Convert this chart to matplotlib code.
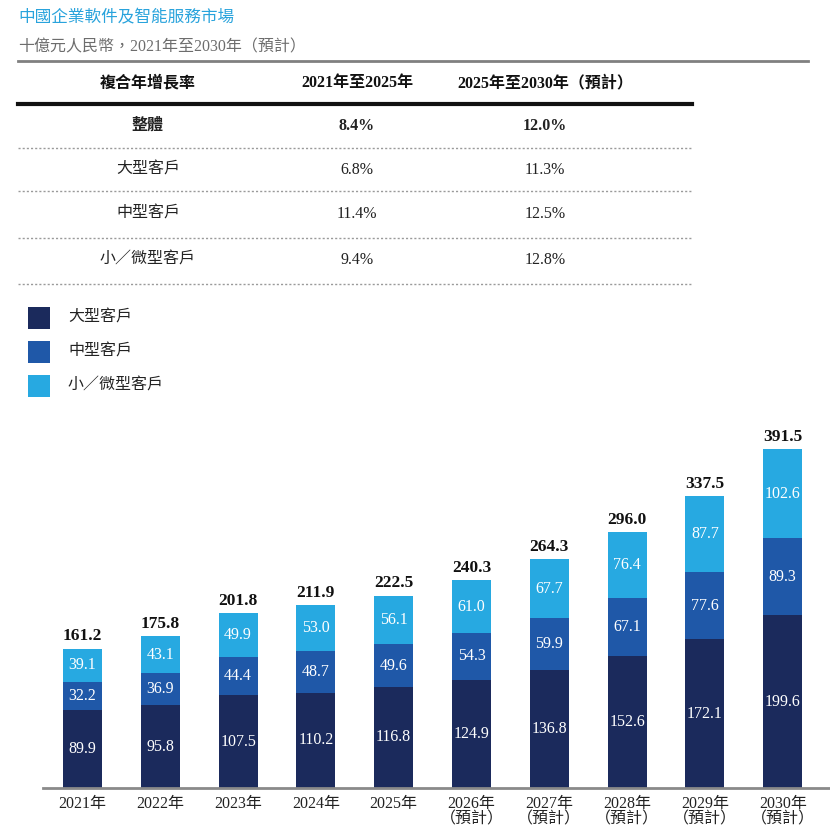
import matplotlib
matplotlib.use("Agg")
import matplotlib.pyplot as plt
from matplotlib.lines import Line2D
from matplotlib.patches import Rectangle
import numpy as np

plt.rcParams['font.family'] = ['Liberation Serif', 'Noto Sans CJK TC', 'DejaVu Sans']

# ---------------- data ----------------
years = ["2021年", "2022年", "2023年", "2024年", "2025年",
         "2026年\n（預計）", "2027年\n（預計）", "2028年\n（預計）", "2029年\n（預計）", "2030年\n（預計）"]
large = [89.9, 95.8, 107.5, 110.2, 116.8, 124.9, 136.8, 152.6, 172.1, 199.6]
medium = [32.2, 36.9, 44.4, 48.7, 49.6, 54.3, 59.9, 67.1, 77.6, 89.3]
small = [39.1, 43.1, 49.9, 53.0, 56.1, 61.0, 67.7, 76.4, 87.7, 102.6]
totals = [161.2, 175.8, 201.8, 211.9, 222.5, 240.3, 264.3, 296.0, 337.5, 391.5]

series_names = ["大型客戶", "中型客戶", "小／微型客戶"]
colors = ["#1b2a5c", "#1f58a8", "#27a9e1"]

title = "中國企業軟件及智能服務市場"
subtitle = "十億元人民幣，2021年至2030年（預計）"

table_header = ["複合年增長率", "2021年至2025年", "2025年至2030年（預計）"]
table_rows = ["整體", "大型客戶", "中型客戶", "小／微型客戶"]
cagr_2021_2025 = ["8.4%", "6.8%", "11.4%", "9.4%"]
cagr_2025_2030 = ["12.0%", "11.3%", "12.5%", "12.8%"]

# ---------------- figure ----------------
W = H = 830
fig = plt.figure(figsize=(8.3, 8.3), dpi=100)
fig.patch.set_facecolor("white")

def fx(px):
    return px / W

def fy(py):
    return 1 - py / H

# title & subtitle
fig.text(fx(18), fy(18), title, color="#29a3dc", fontsize=12,
         family=['Noto Sans CJK TC'], ha="left", va="center")
fig.text(fx(18), fy(47), subtitle, color="#6d6d6d", fontsize=11.5,
         ha="left", va="center")
fig.add_artist(Line2D([fx(18), fx(808)], [fy(61), fy(61)], color="#808080",
                      lw=2, transform=fig.transFigure))

# table
col_x = [148, 357, 545]
hdr_y = 83
for x, t in zip(col_x, table_header):
    fig.text(fx(x), fy(hdr_y), t, fontsize=11.5, fontweight="bold",
             ha="center", va="center", color="#111111")
fig.add_artist(Line2D([fx(18), fx(692)], [fy(104), fy(104)], color="#111111",
                      lw=3, transform=fig.transFigure))
row_y = [126, 170, 214, 260]
dash_y = [148, 191, 238, 284]
for i, (ry, dy) in enumerate(zip(row_y, dash_y)):
    fw = "bold" if i == 0 else "normal"
    fig.text(fx(col_x[0]), fy(ry), table_rows[i], fontsize=11.5, fontweight=fw,
             ha="center", va="center", color="#222222")
    fig.text(fx(col_x[1]), fy(ry), cagr_2021_2025[i], fontsize=11.5, fontweight=fw,
             ha="center", va="center", color="#222222")
    fig.text(fx(col_x[2]), fy(ry), cagr_2025_2030[i], fontsize=11.5, fontweight=fw,
             ha="center", va="center", color="#222222")
    fig.add_artist(Line2D([fx(18), fx(692)], [fy(dy), fy(dy)], color="#9a9a9a",
                          lw=1, linestyle=(0, (1.5, 1.5)), transform=fig.transFigure))

# legend
leg_y = [318, 352, 386]
for name, c, ly in zip(series_names, colors, leg_y):
    fig.add_artist(Rectangle((fx(28), fy(ly + 11)), fx(22), 22 / H, facecolor=c,
                             edgecolor="none", transform=fig.transFigure))
    fig.text(fx(68), fy(ly), name, fontsize=11.5, ha="left", va="center",
             color="#222222")

# bar chart
ax_left, ax_right, ax_top, ax_bottom = 43, 830, 420, 788
ax = fig.add_axes([fx(ax_left), fy(ax_bottom), fx(ax_right - ax_left),
                   (ax_bottom - ax_top) / H])
x = np.arange(len(years))
spacing = 77.8
ax.set_xlim((ax_left - 82.5) / spacing, (ax_right - 82.5) / spacing)
ax.set_ylim(0, (ax_bottom - ax_top) / 0.865)

bw = 0.5
bottoms = np.zeros(len(years))
for vals, c in zip([large, medium, small], colors):
    vals = np.array(vals)
    ax.bar(x, vals, bw, bottom=bottoms, color=c, edgecolor="none", zorder=2)
    for xi, b, v in zip(x, bottoms, vals):
        ax.text(xi, b + v / 2, f"{v:.1f}", ha="center", va="center",
                color="white", fontsize=11.5, zorder=3)
    bottoms = bottoms + vals

for xi, b, t in zip(x, bottoms, totals):
    ax.annotate(f"{t:.1f}", (xi, b), xytext=(0, 3), textcoords="offset points",
                ha="center", va="bottom", fontsize=12.5, fontweight="bold",
                color="#111111")

for s in ["top", "right", "left"]:
    ax.spines[s].set_visible(False)
ax.spines["bottom"].set_color("#8a8a8a")
ax.spines["bottom"].set_linewidth(2)
ax.set_yticks([])
ax.set_xticks(x)
ax.set_xticklabels(years, fontsize=11.5, color="#222222", linespacing=0.95)
ax.tick_params(axis="x", length=0, pad=6)
ax.patch.set_alpha(0)

fig.savefig("out.png", dpi=100, facecolor="white")
